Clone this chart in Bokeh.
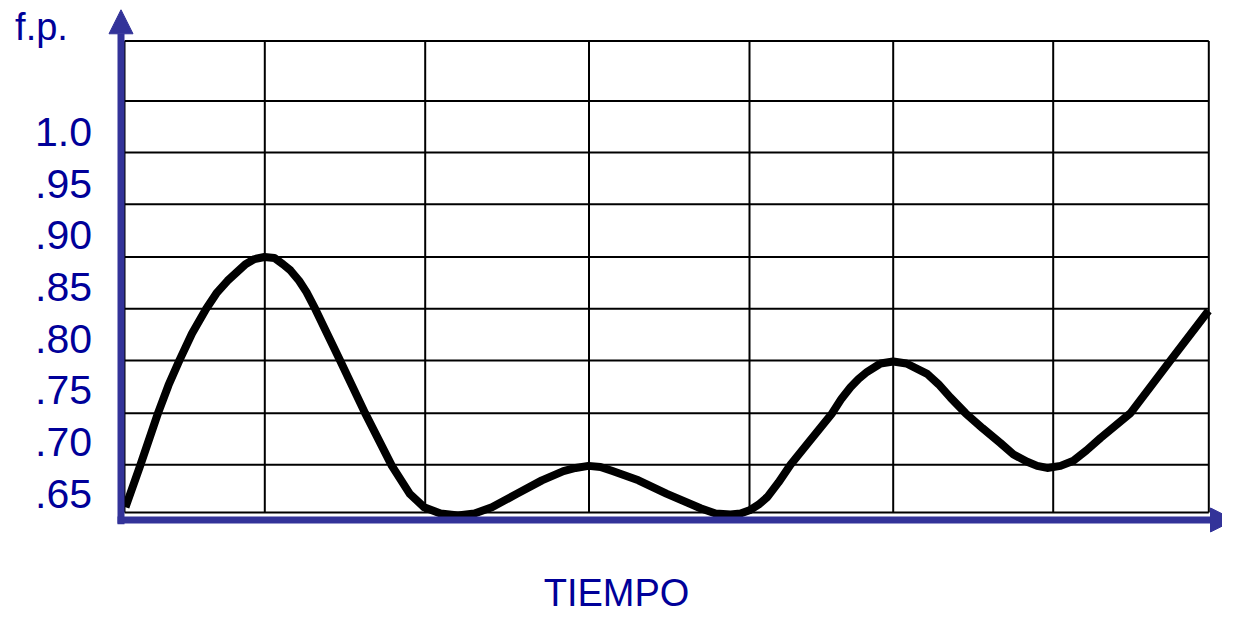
from bokeh.plotting import figure
from bokeh.models import Range1d, Arrow, NormalHead, ColumnDataSource
from bokeh.core.properties import value
from bokeh.embed import file_html
from bokeh.resources import INLINE

# ---- data ----
# time (arbitrary units) and power factor (f.p.)
tiempo = [1, 15.6, 33.5, 44, 54.9, 67.5, 81.7, 92, 103, 112, 121, 130, 140, 150,
          158.5, 166, 174.6, 182, 190.6, 215.6, 240.6, 267.4, 285.3, 299.6, 316,
          333.5, 350, 367.4, 392.4, 417.4, 438.9, 451, 464, 476, 488, 513.9,
          542.4, 576, 591, 606, 616, 625, 634, 643, 654, 666, 686, 707.7, 717,
          726, 734, 742.7, 756, 768.7, 782, 802.7, 814, 826, 841, 858, 876, 889,
          902.7, 912.7, 922.7, 936, 949, 962, 976, 1006, 1046, 1084]
fp = [0.637, 0.677, 0.728, 0.755, 0.779, 0.805, 0.829, 0.844, 0.856, 0.864,
      0.872, 0.877, 0.879, 0.878, 0.872, 0.866, 0.856, 0.845, 0.829, 0.779,
      0.728, 0.677, 0.650, 0.637, 0.631, 0.629, 0.631, 0.637, 0.650, 0.663,
      0.672, 0.675, 0.677, 0.676, 0.672, 0.663, 0.650, 0.636, 0.631, 0.630,
      0.631, 0.634, 0.6395, 0.647, 0.661, 0.678, 0.702, 0.728, 0.742, 0.753,
      0.761, 0.768, 0.776, 0.778, 0.776, 0.766, 0.756, 0.743, 0.728, 0.7135,
      0.699, 0.688, 0.681, 0.677, 0.675, 0.677, 0.682, 0.692, 0.704, 0.728,
      0.779, 0.827]

tick_values = [0.65, 0.70, 0.75, 0.80, 0.85, 0.90, 0.95, 1.0]
tick_labels = [".65", ".70", ".75", ".80", ".85", ".90", ".95", "1.0"]

y_title = "f.p."
x_title = "TIEMPO"

# table (background grid) layout in data units
grid_cols = [0, 140.3, 300.7, 464.5, 625, 768.7, 928.7, 1084.3]
grid_rows = [0.632, 0.678, 0.728, 0.779, 0.829, 0.879, 0.930, 0.980, 1.030, 1.088]

AXIS = "#333399"
TEXT = "#000099"
FONT = "Liberation Sans"

p = figure(width=1222, height=615,
           x_range=Range1d(-124, 1098), y_range=Range1d(0.53230, 1.12708),
           output_backend="svg", toolbar_location=None,
           x_axis_type=None, y_axis_type=None, min_border=0)
p.outline_line_color = None
p.background_fill_color = "white"
p.border_fill_color = "white"

# table grid
p.segment(x0=[grid_cols[0]] * len(grid_rows), x1=[grid_cols[-1]] * len(grid_rows),
          y0=grid_rows, y1=grid_rows, line_color="black", line_width=2)
p.segment(x0=grid_cols, x1=grid_cols,
          y0=[grid_rows[0]] * len(grid_cols), y1=[grid_rows[-1]] * len(grid_cols),
          line_color="black", line_width=2)

# curve
p.line(tiempo, fp, line_color="black", line_width=8, line_join="round")

# axes with arrows
x_axis_y = 0.6247
y_axis_x = -3.5
p.add_layout(Arrow(x_start=y_axis_x, y_start=0.6205, x_end=y_axis_x, y_end=1.1181,
                   line_color=AXIS, line_width=7,
                   end=NormalHead(size=24, fill_color=AXIS, line_color=AXIS, line_width=1)))
p.add_layout(Arrow(x_start=-7, y_start=x_axis_y, x_end=1110, y_end=x_axis_y,
                   line_color=AXIS, line_width=7,
                   end=NormalHead(size=24, fill_color=AXIS, line_color=AXIS, line_width=1)))

# tick labels
src = ColumnDataSource(dict(x=[-61] * len(tick_values), y=tick_values, t=tick_labels))
p.text(x="x", y="y", text="t", source=src, text_font=value(FONT),
       text_font_size="41px", text_color=TEXT, text_align="center",
       text_baseline="middle")

# titles
p.text(x=[-83], y=[1.1018], text=[y_title], text_font=value(FONT),
       text_font_size="38px", text_color=TEXT, text_align="center",
       text_baseline="middle")
p.text(x=[492], y=[0.5545], text=[x_title], text_font=value(FONT),
       text_font_size="38px", text_color=TEXT, text_align="center",
       text_baseline="middle")

open("out.html", "w").write(file_html(p, INLINE))
